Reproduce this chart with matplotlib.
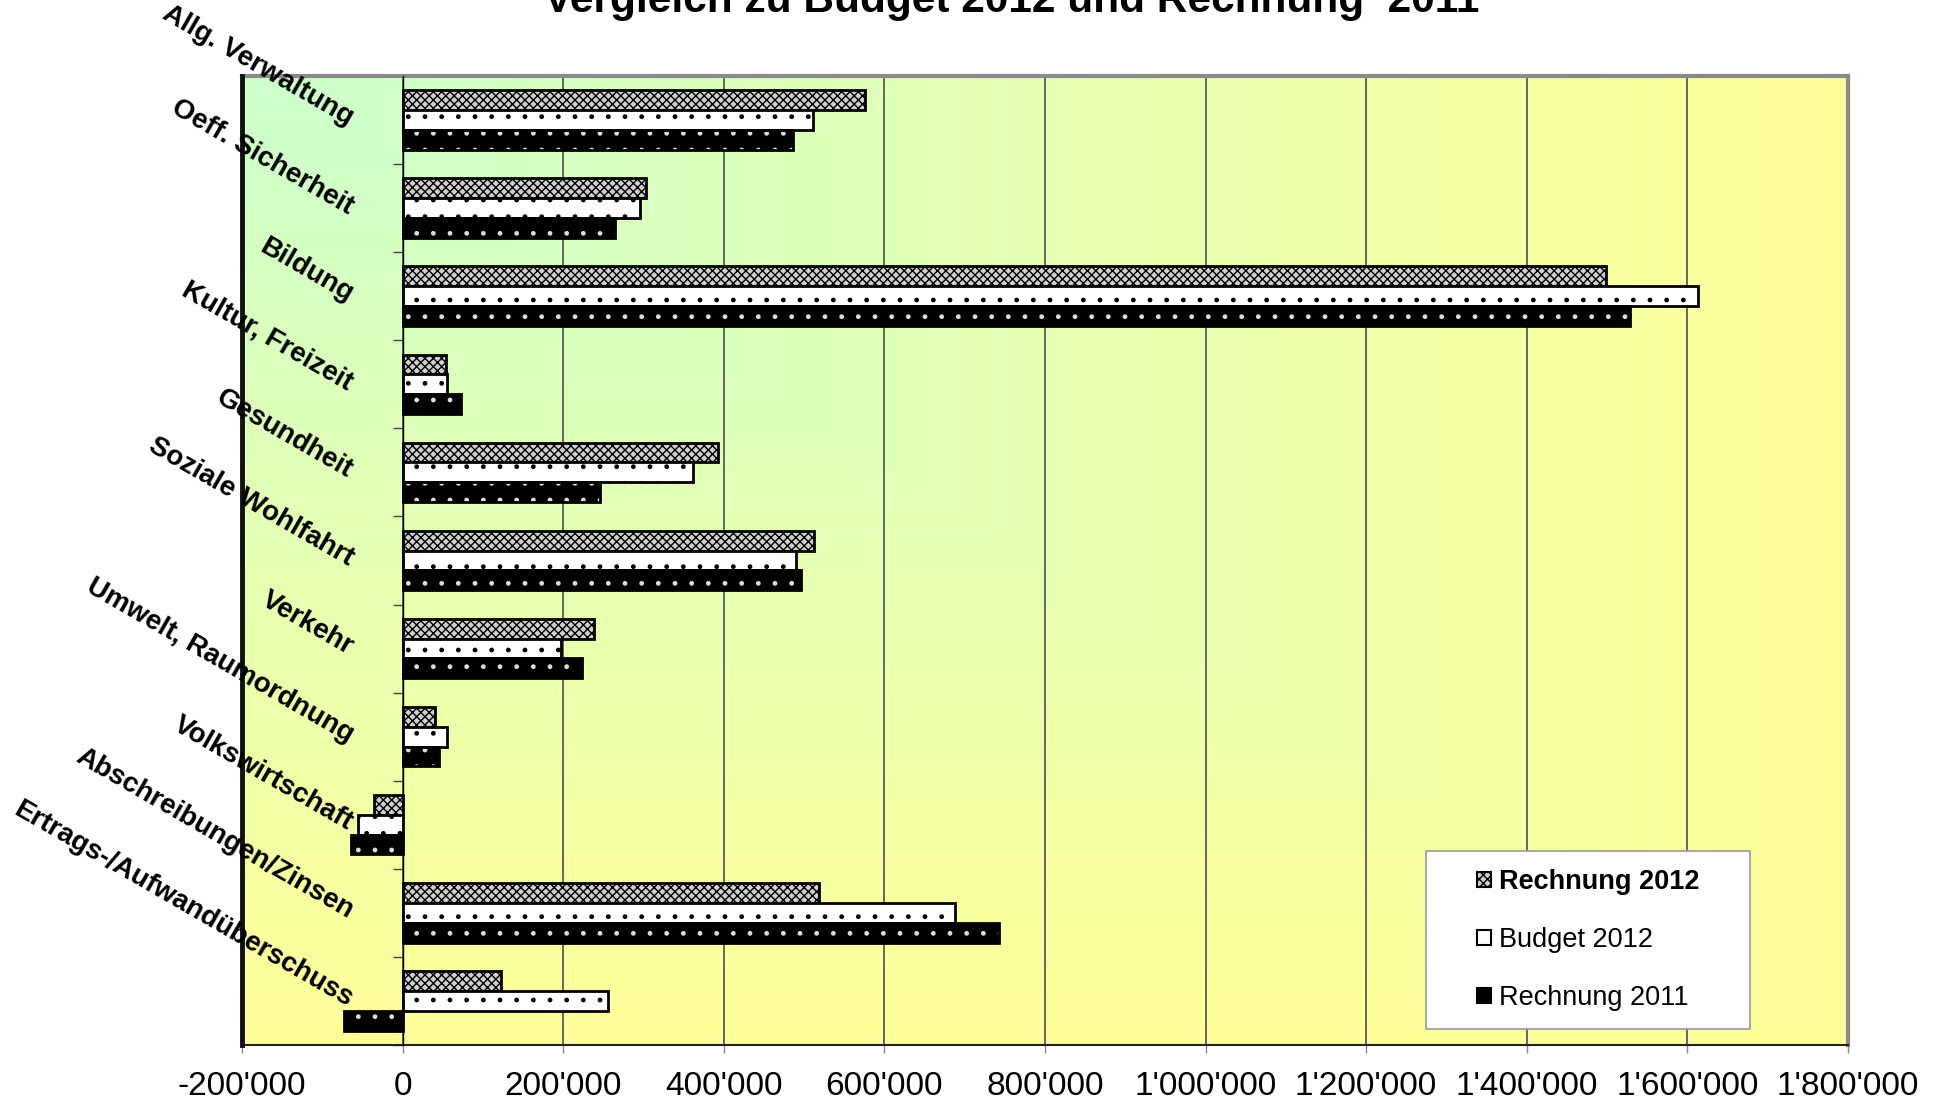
import numpy as np
import matplotlib
matplotlib.use("Agg")
import matplotlib.pyplot as plt
import matplotlib.transforms as mtransforms
from matplotlib.patches import Patch, Rectangle
from matplotlib.ticker import FuncFormatter

plt.rcParams['font.family'] = ['Liberation Sans', 'DejaVu Sans']
plt.rcParams['hatch.linewidth'] = 1.0

# ---------------- data ----------------
categories = ["Allg. Verwaltung", "Oeff. Sicherheit", "Bildung", "Kultur, Freizeit",
              "Gesundheit", "Soziale Wohlfahrt", "Verkehr", "Umwelt, Raumordnung",
              "Volkswirtschaft", "Abschreibungen/Zinsen", "Ertrags-/Aufwandüberschuss"]
rechnung_2012 = [576000, 303000, 1499000, 54000, 393000, 512000, 238000, 40000, -36000, 519000, 123000]
budget_2012 = [511000, 296000, 1613000, 55000, 362000, 490000, 197000, 56000, -56000, 688000, 256000]
rechnung_2011 = [486000, 264000, 1529000, 73000, 246000, 496000, 223000, 46000, -64000, 743000, -73000]
series_names = ["Rechnung 2012", "Budget 2012", "Rechnung 2011"]
x_ticks = [-200000, 0, 200000, 400000, 600000, 800000, 1000000, 1200000, 1400000, 1600000, 1800000]

title = "Vergleich zu Budget 2012 und Rechnung  2011"

fig = plt.figure(figsize=(19.37, 11.03), dpi=100)
ax = fig.add_axes([0.1249, 0.0526, 0.8291, 0.8785])

# gradient background (mint in the top-left corner -> yellow)
n = 300
xx, yy = np.meshgrid(np.linspace(0, 1, n), np.linspace(0, 1, n))
t = np.maximum(xx, yy)[..., None]
c0 = np.array([204, 255, 204]) / 255
c1 = np.array([255, 255, 153]) / 255
grad = c0 * (1 - t) + c1 * t
ax.imshow(grad, extent=(0, 1, 0, 1), transform=ax.transAxes, aspect='auto', zorder=0)

y = np.arange(len(categories))
h = 0.225

# Rechnung 2012: dense grey checker
ax.barh(y - h, rechnung_2012, height=h, facecolor='#cfcfcf', edgecolor='black',
        hatch='xxxx', linewidth=2, zorder=3)
# Budget 2012: white with sparse dots
ax.barh(y, budget_2012, height=h, facecolor='white', edgecolor='black',
        hatch='.', linewidth=2, zorder=3)
# Rechnung 2011: black with white dots
ax.barh(y + h, rechnung_2011, height=h, facecolor='black', edgecolor='#dddddd',
        hatch='.', linewidth=0, zorder=3)
ax.barh(y + h, rechnung_2011, height=h, fill=False, edgecolor='black',
        linewidth=2, zorder=4)

ax.set_xlim(-200000, 1800000)
ax.set_ylim(len(categories) - 0.5, -0.5)

# x axis
ax.set_xticks(x_ticks)
ax.xaxis.set_major_formatter(FuncFormatter(lambda v, p: f"{v:,.0f}".replace(',', "'")))
ax.tick_params(axis='x', direction='out', length=6, width=1, color='#888888',
               labelsize=24, pad=13)
ax.grid(axis='x', color='#5a5a5a', linewidth=1.3, zorder=1)
ax.set_axisbelow(True)

# y axis at zero, ticks between categories
ax.spines['left'].set_position(('data', 0))
ax.spines['left'].set_linewidth(1)
ax.spines['left'].set_zorder(5)
ax.set_yticks(np.arange(-0.5, len(categories), 1))
ax.set_yticklabels([])
ax.tick_params(axis='y', direction='out', length=7, width=1, color='#444444')

ax.spines['top'].set_color('#8a8a8a')
ax.spines['top'].set_linewidth(3)
ax.spines['right'].set_color('#8a8a8a')
ax.spines['right'].set_linewidth(3)
ax.spines['bottom'].set_color('#222222')
ax.spines['bottom'].set_linewidth(1.5)
ax.axvline(-200000, color='#111111', linewidth=3.5, clip_on=False, zorder=6)

# category labels, slanted
trans = mtransforms.blended_transform_factory(ax.transAxes, ax.transData)
for yi, name in zip(y, categories):
    ax.text(0.068, yi, name, transform=trans, rotation=-30, rotation_mode='anchor',
            ha='right', va='center', fontsize=20, fontweight='bold', clip_on=False,
            zorder=7)

# title (cut at the top edge like the original)
fig.text(0.5225, 1 - 12.0 / 1103, title, ha='center', va='baseline',
         fontsize=30.5, fontweight='bold')

# legend with separate frame
fig.add_artist(Rectangle((1426 / 1937, 1 - 1029 / 1103), 324 / 1937, 178 / 1103,
                         transform=fig.transFigure, facecolor='white',
                         edgecolor='#999999', linewidth=1.2, zorder=8))
handles = [Patch(facecolor='#cfcfcf', edgecolor='black', hatch='xxxx', linewidth=1.5),
           Patch(facecolor='white', edgecolor='black', linewidth=1.5),
           Patch(facecolor='black', edgecolor='black', linewidth=1.5)]
leg = fig.legend(handles, series_names, loc='center left',
                 bbox_to_anchor=(1477 / 1937, 1 - 940 / 1103), frameon=False,
                 fontsize=19.5, handlelength=0.5, handleheight=0.5,
                 handletextpad=0.3, labelspacing=1.18, borderpad=0, borderaxespad=0)
leg.set_zorder(9)
leg.get_texts()[0].set_fontweight('bold')

fig.savefig("out.png", dpi=100)
